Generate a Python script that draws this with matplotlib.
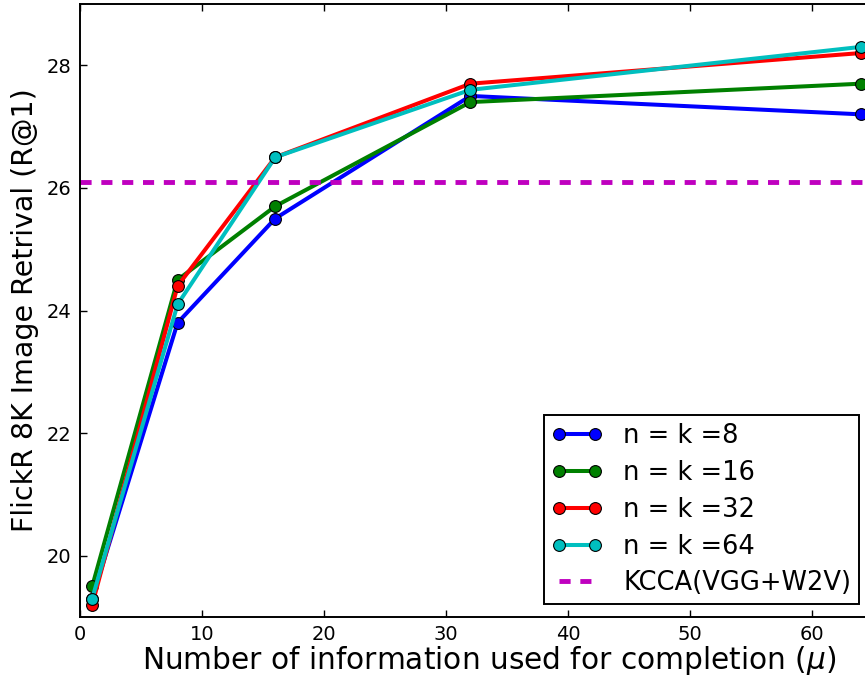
import numpy as np
import matplotlib
matplotlib.use("Agg")
import matplotlib.pyplot as plt

# values
mu = [1, 8, 16, 32, 64]
r_k8 = [19.3, 23.8, 25.5, 27.5, 27.2]
r_k16 = [19.5, 24.5, 25.7, 27.4, 27.7]
r_k32 = [19.2, 24.4, 26.5, 27.7, 28.2]
r_k64 = [19.3, 24.1, 26.5, 27.6, 28.3]
kcca = 26.1

series = [
    ("n = k =8", r_k8, "b"),
    ("n = k =16", r_k16, "g"),
    ("n = k =32", r_k32, "r"),
    ("n = k =64", r_k64, "c"),
]

plt.rcParams["font.family"] = "DejaVu Sans"
plt.rcParams["lines.scale_dashes"] = False
plt.rcParams["mathtext.fontset"] = "dejavusans"

fig = plt.figure(figsize=(8.65, 6.79), dpi=100)
# axes run past the right edge of the figure (the original was cropped there)
ax = fig.add_axes([80 / 865, 62 / 679, 818 / 865, 613 / 679])

for label, vals, col in series:
    ax.plot(mu, vals, color=col, lw=2.9, marker="o", ms=8.5,
            markeredgecolor="k", markeredgewidth=0.8, label=label)

ax.axhline(kcca, color="m", lw=3.5, dashes=(8, 7), label="KCCA(VGG+W2V)")

ax.set_xlim(0, 67.05)
ax.set_ylim(19, 29)
ax.set_xticks([0, 10, 20, 30, 40, 50, 60])
ax.set_yticks([20, 22, 24, 26, 28])
ax.tick_params(direction="in", length=5, width=1, labelsize=14,
               top=True, right=True, pad=6)
for s in ax.spines.values():
    s.set_linewidth(1.4)

ax.set_xlabel(r"Number of information used for completion ($\mu$)", fontsize=21.3, labelpad=0)
ax.set_ylabel("FlickR 8K Image Retrival (R@1)", fontsize=20.5, labelpad=6)

leg = ax.legend(loc="lower right", bbox_to_anchor=(859 / 865, 75 / 679),
                bbox_transform=fig.transFigure, borderaxespad=0, numpoints=2,
                fontsize=18.5, fancybox=False, framealpha=1,
                handlelength=2.0, handletextpad=0.8, labelspacing=0.42,
                borderpad=0.3)
leg.get_frame().set_edgecolor("k")
leg.get_frame().set_linewidth(1.4)

fig.savefig("out.png", dpi=100)
